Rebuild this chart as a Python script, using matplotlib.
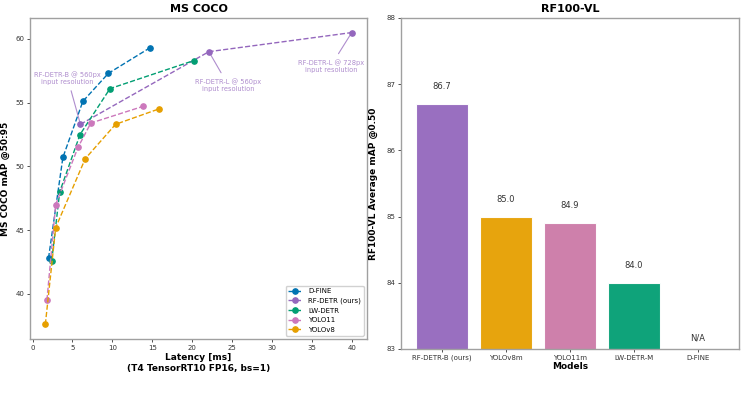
import matplotlib
matplotlib.use("Agg")
import matplotlib.pyplot as plt
import numpy as np

# MS COCO latency / mAP curves
DFINE_LAT = [2.0, 3.8, 6.3, 9.5, 14.7]
DFINE_MAP = [42.8, 50.7, 55.1, 57.3, 59.3]
RFDETR_LAT = [6.0, 22.1, 40.0]
RFDETR_MAP = [53.3, 59.0, 60.5]
LWDETR_LAT = [2.4, 3.4, 5.95, 9.7, 20.2]
LWDETR_MAP = [42.6, 48.0, 52.5, 56.1, 58.3]
YOLO11_LAT = [1.8, 2.9, 5.7, 7.3, 13.8]
YOLO11_MAP = [39.5, 47.0, 51.5, 53.4, 54.7]
YOLOV8_LAT = [1.6, 2.9, 6.6, 10.4, 15.8]
YOLOV8_MAP = [37.6, 45.2, 50.6, 53.3, 54.5]

# RF100-VL bars (D-FINE has no result)
MODELS = ["RF-DETR-B (ours)", "YOLOv8m", "YOLO11m", "LW-DETR-M", "D-FINE"]
RF100_MAP = [86.7, 85.0, 84.9, 84.0, np.nan]

BLUE = "#0173B2"
PURPLE = "#9467bd"
GREEN = "#029E73"
PINK = "#CC78BC"
ORANGE = "#E69F00"
BAR_COLORS = [PURPLE, ORANGE, "#CC79A7", GREEN, BLUE]
SPINE = "#a0a0a0"

fig = plt.figure(figsize=(7.56, 3.95), dpi=100)
ax1 = fig.add_axes([0.0397, 0.1418, 0.4458, 0.8127])
ax2 = fig.add_axes([0.5304, 0.1165, 0.4471, 0.838])

series = [
    (DFINE_LAT, DFINE_MAP, "D-FINE", BLUE),
    (RFDETR_LAT, RFDETR_MAP, "RF-DETR (ours)", PURPLE),
    (LWDETR_LAT, LWDETR_MAP, "LW-DETR", GREEN),
    (YOLO11_LAT, YOLO11_MAP, "YOLO11", PINK),
    (YOLOV8_LAT, YOLOV8_MAP, "YOLOv8", ORANGE),
]
for xs, ys, label, color in series:
    ax1.plot(xs, ys, linestyle="--", marker="o", markersize=3.8, linewidth=1,
             color=color, label=label)

ann_kw = dict(fontsize=4.8, color=PURPLE, alpha=0.75, ha="center", va="center",
              arrowprops=dict(arrowstyle="-", color=PURPLE, alpha=0.75, lw=0.8))
ax1.annotate("RF-DETR-B @ 560px\ninput resolution", xy=(RFDETR_LAT[0], RFDETR_MAP[0]),
             xytext=(4.4, 56.9), **ann_kw)
ax1.annotate("RF-DETR-L @ 560px\ninput resolution", xy=(RFDETR_LAT[1], RFDETR_MAP[1]),
             xytext=(24.5, 56.4), **ann_kw)
ax1.annotate("RF-DETR-L @ 728px\ninput resolution", xy=(RFDETR_LAT[2], RFDETR_MAP[2]),
             xytext=(37.4, 57.9), **ann_kw)

ax1.set_title("MS COCO", fontsize=8, fontweight="bold", pad=4)
ax1.set_xlabel("Latency [ms]\n(T4 TensorRT10 FP16, bs=1)", fontsize=6.5, fontweight="bold", labelpad=2)
ax1.set_ylabel("MS COCO mAP @50:95", fontsize=6.5, fontweight="bold", labelpad=4)
ax1.set_xticks(range(0, 41, 5))
ax1.set_yticks([40, 45, 50, 55, 60])
ax1.legend(loc="lower right", fontsize=5, handlelength=2, framealpha=0.9)

xs = np.arange(len(MODELS))
vals = [0 if np.isnan(v) else v for v in RF100_MAP]
ax2.bar(xs, vals, width=0.8, color=BAR_COLORS, edgecolor="white", linewidth=0.8, alpha=0.95)
for x, v in zip(xs, RF100_MAP):
    if np.isnan(v):
        ax2.text(x, 83.16, "N/A", ha="center", va="center", fontsize=6, color="#333333")
    else:
        ax2.text(x, v + 0.26, f"{v:.1f}", ha="center", va="center", fontsize=6, color="#333333")
ax2.set_ylim(83, 88)
ax2.set_xticks(xs)
ax2.set_xticklabels(MODELS, fontsize=5)
ax2.set_title("RF100-VL", fontsize=8, fontweight="bold", pad=4)
ax2.set_xlabel("Models", fontsize=6.5, fontweight="bold", labelpad=1)
ax2.set_ylabel("RF100-VL Average mAP @0.50", fontsize=6.5, fontweight="bold", labelpad=6)

for ax in (ax1, ax2):
    ax.tick_params(labelsize=5, length=2, width=0.6, pad=2, colors="#333333")
    for s in ax.spines.values():
        s.set_color(SPINE)
        s.set_linewidth(1.0)

fig.savefig("out.png", dpi=100)
